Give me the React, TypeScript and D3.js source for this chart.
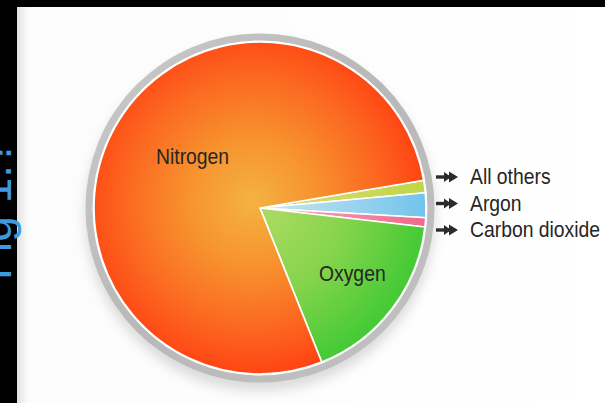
import React, { useMemo } from "react";
import * as d3 from "d3";

// gas names, in the order the slices are laid clockwise
const gases = ["All others", "Argon", "Carbon dioxide", "Oxygen", "Nitrogen"];
// share of the air (%)
const shares = [1.2, 2.4, 0.9, 17.1, 78.4];
const sliceFills = ["url(#gOthers)", "url(#gArgon)", "url(#gCo2)", "url(#gOxygen)", "url(#gNitrogen)"];
// labels listed at the right side, with arrows
const calloutLabels = ["All others", "Argon", "Carbon dioxide"];

const W = 605;
const H = 403;

export default function App() {
  const cx = 260;
  const cy = 208;
  const radius = 166;
  const startDeg = 80.4;

  const arcs = useMemo(() => {
    const pie = d3
      .pie<number>()
      .sort(null)
      .value((d) => d)
      .startAngle((startDeg * Math.PI) / 180)
      .endAngle(((startDeg + 360) * Math.PI) / 180);
    return pie(shares);
  }, []);

  const arcGen = d3.arc<d3.PieArcDatum<number>>().innerRadius(0).outerRadius(radius);

  // callout rows
  const rowY = d3.scalePoint<string>().domain(calloutLabels).range([177, 230]);

  const font = "'Liberation Sans', Arial, sans-serif";

  const Label = ({ x, y, text }: { x: number; y: number; text: string }) => (
    <text transform={`translate(${x},${y}) scale(0.9,1)`} fontSize="21.5" fontFamily={font} fill="#262626">
      {text}
    </text>
  );

  // slice gradients live in the pie group's space, so centred on 0,0
  const radial = (id: string, stops: [number, string][]) => (
    <radialGradient id={id} gradientUnits="userSpaceOnUse" cx={-8} cy={-6} r={radius + 6}>
      {stops.map(([o, c]) => (
        <stop key={o} offset={o} stopColor={c} />
      ))}
    </radialGradient>
  );

  return (
    <svg width={W} height={H} style={{ position: "absolute", left: 0, top: 0, display: "block" }}>
      <defs>
        {radial("gNitrogen", [
          [0, "#f4b244"],
          [0.35, "#f7952f"],
          [0.7, "#fb6c22"],
          [1, "#ff4513"],
        ])}
        {radial("gOxygen", [
          [0, "#b2dc66"],
          [0.55, "#86d44c"],
          [1, "#46ca36"],
        ])}
        {radial("gOthers", [
          [0, "#e0dc78"],
          [1, "#c0d54a"],
        ])}
        {radial("gArgon", [
          [0, "#d2e8f2"],
          [1, "#72c4ec"],
        ])}
        {radial("gCo2", [
          [0, "#f6b0be"],
          [1, "#f06a8c"],
        ])}
        <linearGradient id="gRing" x1="0" y1="0" x2="1" y2="1">
          <stop offset="0" stopColor="#cacaca" />
          <stop offset="0.5" stopColor="#b8b8b8" />
          <stop offset="1" stopColor="#c2c2c2" />
        </linearGradient>
        <linearGradient id="gPanel" x1="0" y1="0" x2="1" y2="0">
          <stop offset="0" stopColor="#e2e2e2" />
          <stop offset="0.02" stopColor="#fcfcfc" />
          <stop offset="1" stopColor="#ffffff" />
        </linearGradient>
        <filter id="shadow" x="-20%" y="-20%" width="140%" height="140%">
          <feGaussianBlur stdDeviation="6" />
        </filter>
      </defs>

      {/* frame */}
      <rect width={W} height={H} fill="#000" />
      <rect x={17} y={7} width={W - 17} height={H - 7} fill="url(#gPanel)" />
      <text transform="translate(11,280) rotate(-90)" fontSize="46" fontFamily={font} fill="#3f98e2">
        Fig 1.?
      </text>

      {/* shadow + grey rim */}
      <circle cx={cx} cy={cy + 8} r={radius + 9} fill="#9a9a9a" opacity={0.35} filter="url(#shadow)" />
      <circle cx={cx} cy={cy} r={radius + 8.5} fill="url(#gRing)" />
      <circle cx={cx} cy={cy} r={radius + 1.5} fill="#ffffff" />

      {/* slices */}
      <g transform={`translate(${cx},${cy})`}>
        {arcs.map((a, i) => (
          <path
            key={gases[i]}
            d={arcGen(a) || ""}
            fill={sliceFills[i]}
            stroke="#ffffff"
            strokeWidth={1.6}
            strokeLinejoin="round"
          />
        ))}
      </g>

      {/* slice labels */}
      <Label x={156} y={164} text="Nitrogen" />
      <Label x={319} y={281} text="Oxygen" />

      {/* callouts */}
      {calloutLabels.map((lab) => {
        const y = rowY(lab) as number;
        return (
          <g key={lab}>
            <line x1={436} y1={y} x2={450} y2={y} stroke="#2b2b2b" strokeWidth={3.4} />
            <path d={`M444,${y - 5} L451,${y} L444,${y + 5} Z`} fill="#2b2b2b" />
            <path d={`M449,${y - 5.5} L458,${y} L449,${y + 5.5} Z`} fill="#2b2b2b" />
            <Label x={470} y={y + 7} text={lab} />
          </g>
        );
      })}
    </svg>
  );
}
